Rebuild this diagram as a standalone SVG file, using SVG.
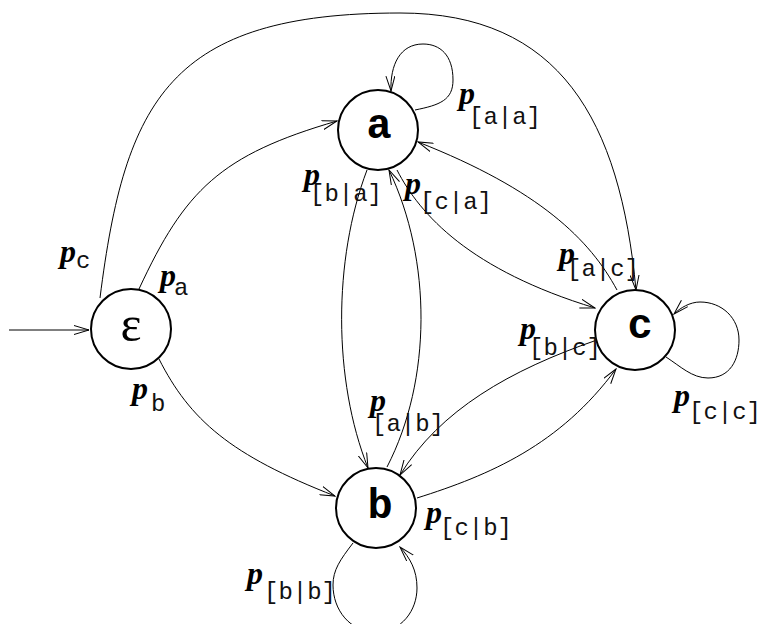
<svg xmlns="http://www.w3.org/2000/svg" width="761" height="624" viewBox="0 0 761 624">
<style>
.node{fill:#fff;stroke:#000;stroke-width:2}
.lab{font-family:"Liberation Mono","DejaVu Sans Mono",monospace;font-weight:bold;font-size:42px;text-anchor:middle;fill:#000}
.eps{font-family:"Liberation Serif","DejaVu Serif",serif;font-size:50px;text-anchor:middle;fill:#000}
.e{fill:none;stroke:#000;stroke-width:1;marker-end:url(#arr)}
.p{font-family:"Liberation Serif","DejaVu Serif",serif;font-weight:bold;font-style:italic;font-size:32px;fill:#000}
.s{font-family:"Liberation Mono","DejaVu Sans Mono",monospace;font-size:24px;fill:#111}
</style>
<defs>
<marker id="arr" markerUnits="userSpaceOnUse" markerWidth="16" markerHeight="10" refX="15" refY="5" orient="auto" viewBox="0 0 16 10">
<path d="M0,0.5 L15,5 L0,9.5" fill="none" stroke="#000" stroke-width="1"/>
</marker>
</defs>
<rect width="761" height="624" fill="#fff"/>
<g id="connectors">
<path class="e" d="M9,330 L89,330"/>
<path class="e" d="M100,298 C125,100 170,13 400,13 C560,13 620,120 636,290"/>
<path class="e" d="M139,289 C185,190 220,155 337,121"/>
<path class="e" d="M159,359 C190,420 230,455 335,496"/>
<path class="e" d="M415,110 C440,105 453,100 453,80 C453,55 440,44 423,44 C400,44 390,65 391,91"/>
<path class="e" d="M367,170 C333,260 333,380 368,468"/>
<path class="e" d="M387,467 C432,380 432,260 389,170"/>
<path class="e" d="M397,170 C420,215 470,270 595,308"/>
<path class="e" d="M617,290 C590,240 540,190 418,142"/>
<path class="e" d="M597,340 C510,370 440,410 400,475"/>
<path class="e" d="M417,498 C490,475 560,445 616,369"/>
<path class="e" d="M666,357 C680,366 692,378 708,378 C730,378 739,360 739,340 C739,318 722,302 700,302 C690,302 680,308 674,314"/>
<path class="e" d="M353,543 C340,560 333,570 333,585 C333,610 350,632 376,632 C402,632 417,610 417,588 C417,570 410,558 400,547"/>
</g>
<g id="node-eps"><circle class="node" cx="131" cy="329" r="40"/><text class="eps" x="131" y="341">ε</text></g>
<g id="node-a"><circle class="node" cx="378" cy="130" r="40"/><text class="lab" x="379" y="138">a</text></g>
<g id="node-b"><circle class="node" cx="376" cy="508" r="40"/><text class="lab" x="380" y="518">b</text></g>
<g id="node-c"><circle class="node" cx="635" cy="330" r="40"/><text class="lab" x="640" y="338">c</text></g>
<g id="labels">
<text class="p" x="60" y="262">p</text><text class="s" x="76" y="268">c</text>
<text class="p" x="160" y="286">p</text><text class="s" x="174" y="295">a</text>
<text class="p" x="132" y="399">p</text><text class="s" x="151" y="411">b</text>
<text class="p" x="459" y="104">p</text><text class="s" x="469" y="124">[a|a]</text>
<text class="p" x="304" y="185">p</text><text class="s" x="310" y="201">[b|a]</text>
<text class="p" x="405" y="194">p</text><text class="s" x="420" y="209">[c|a]</text>
<text class="p" x="559" y="264">p</text><text class="s" x="567" y="276">[a|c]</text>
<text class="p" x="520" y="339">p</text><text class="s" x="529" y="355">[b|c]</text>
<text class="p" x="674" y="406">p</text><text class="s" x="689" y="419">[c|c]</text>
<text class="p" x="370" y="411">p</text><text class="s" x="372" y="431">[a|b]</text>
<text class="p" x="426" y="523">p</text><text class="s" x="440" y="535">[c|b]</text>
<text class="p" x="247" y="584">p</text><text class="s" x="264" y="599">[b|b]</text>
</g>
</svg>
